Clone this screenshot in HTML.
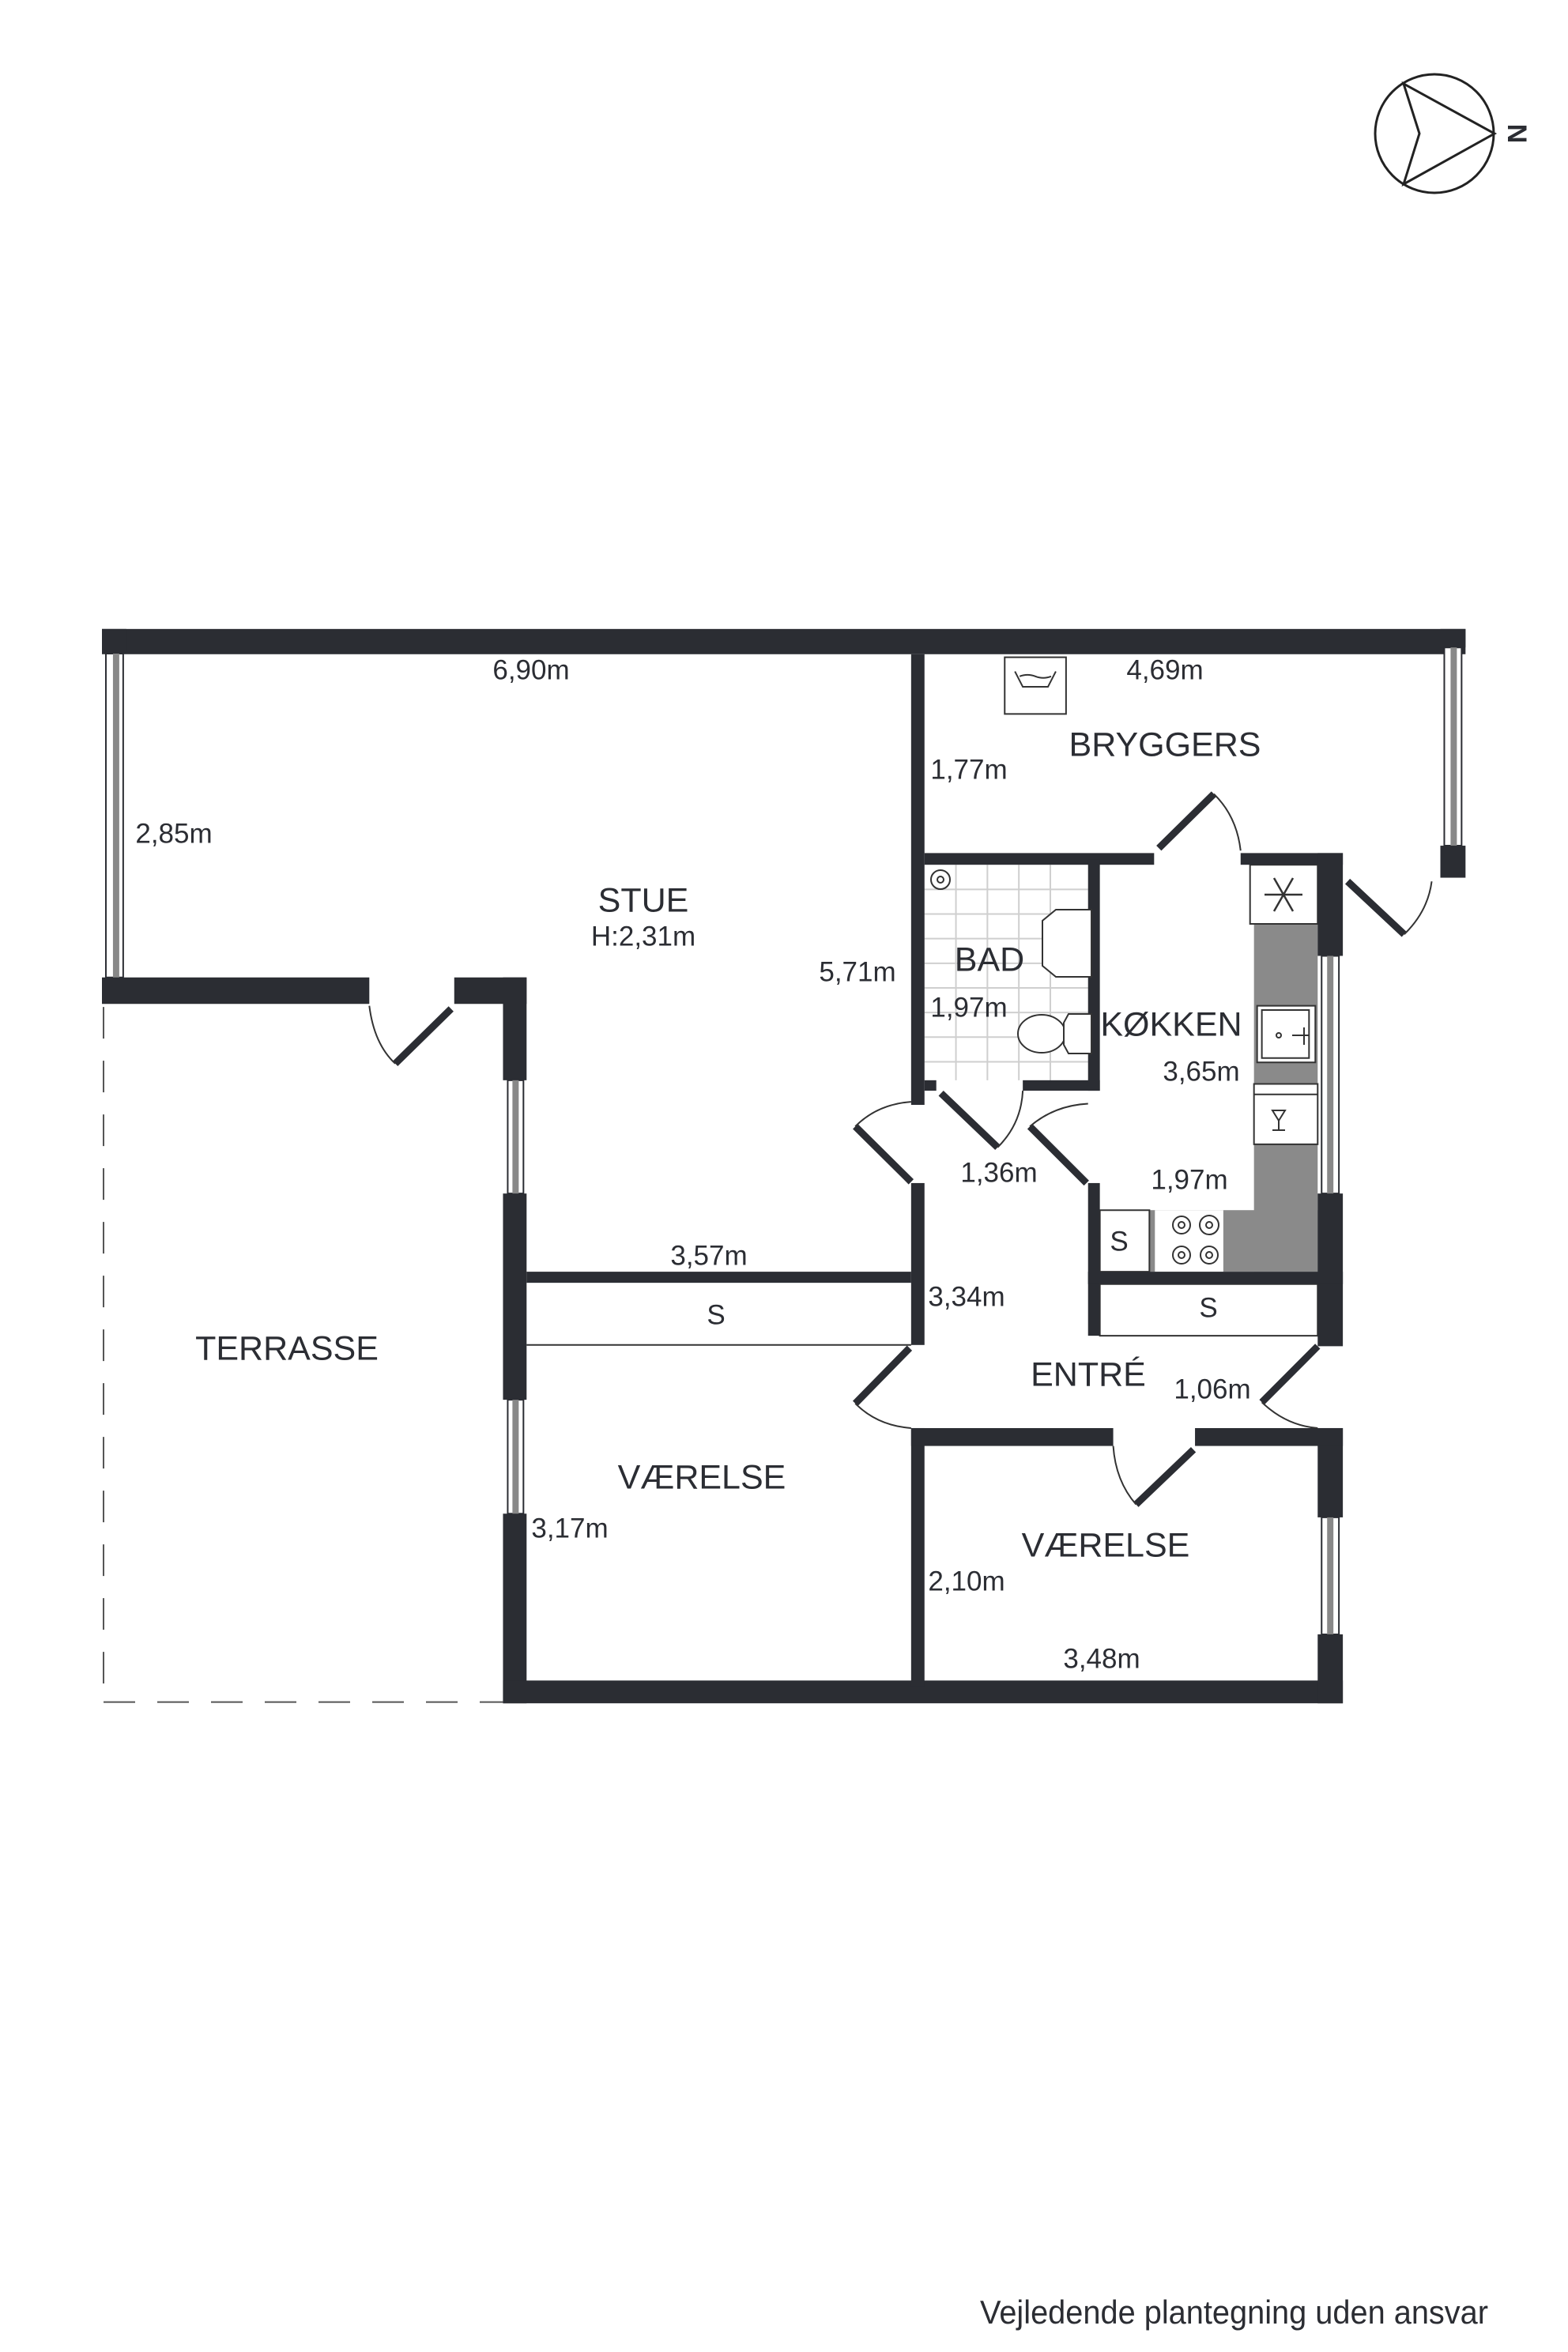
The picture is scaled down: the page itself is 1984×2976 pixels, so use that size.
<!DOCTYPE html>
<html><head><meta charset="utf-8"><style>
html,body{margin:0;padding:0;background:#fff}
svg{display:block}
text{font-family:"Liberation Sans",sans-serif;fill:#2b2d33}
.d{font-size:35px}
.r{font-size:43px}
g.t *{vector-effect:non-scaling-stroke}
</style></head><body>
<svg width="1984" height="2976" viewBox="0 0 1984 2976" xmlns="http://www.w3.org/2000/svg">
<!-- compass -->
<circle cx="1815" cy="169" r="75" fill="none" stroke="#222" stroke-width="3"/>
<polygon points="1776,106 1891,169 1776,233 1796,169" fill="none" stroke="#222" stroke-width="3"/>
<text x="1917" y="169" transform="rotate(90 1917 169)" text-anchor="middle" dominant-baseline="middle" style="font-size:34px;font-weight:bold">N</text>

<g class="t" transform="translate(129,760) scale(0.995,0.779) translate(-129,-760)">
<!-- bath tiles -->
<g stroke="#cfcfcf" stroke-width="2">
<line x1="1215" y1="1189" x2="1215" y2="1539"/><line x1="1255" y1="1189" x2="1255" y2="1539"/>
<line x1="1295" y1="1189" x2="1295" y2="1539"/><line x1="1335" y1="1189" x2="1335" y2="1539"/>
<line x1="1175" y1="1229" x2="1383" y2="1229"/><line x1="1175" y1="1269" x2="1383" y2="1269"/>
<line x1="1175" y1="1309" x2="1383" y2="1309"/><line x1="1175" y1="1349" x2="1383" y2="1349"/>
<line x1="1175" y1="1389" x2="1383" y2="1389"/><line x1="1175" y1="1429" x2="1383" y2="1429"/>
<line x1="1175" y1="1469" x2="1383" y2="1469"/><line x1="1175" y1="1509" x2="1383" y2="1509"/>
</g>
<!-- washer -->
<g fill="none" stroke="#333" stroke-width="2">
<rect x="1277" y="852" width="78" height="92"/>
<path d="M1290,875 L1300,900 L1332,900 L1342,875"/>
<path d="M1296,883 Q1306,878 1316,883 Q1326,888 1336,883"/>
</g>
<!-- kitchen counter gray -->
<rect x="1594" y="1285" width="81" height="565" fill="#8a8a8a"/>
<rect x="1398" y="1750" width="277" height="100" fill="#8a8a8a"/>
<rect x="1398" y="1750" width="63" height="100" fill="#fff" stroke="#333" stroke-width="2"/>
<rect x="1468" y="1750" width="87" height="100" fill="#fff"/>
<!-- fridge -->
<rect x="1589" y="1189" width="86" height="96" fill="#fff" stroke="#333" stroke-width="2"/>
<!-- sink -->
<rect x="1598" y="1418" width="74" height="92" fill="#fff" stroke="#333" stroke-width="2"/>
<rect x="1604" y="1425" width="60" height="78" fill="none" stroke="#333" stroke-width="2"/>
<!-- dishwasher -->
<rect x="1594" y="1545" width="81" height="98" fill="#fff" stroke="#333" stroke-width="2"/>
<line x1="1594" y1="1562" x2="1675" y2="1562" stroke="#333" stroke-width="2"/>

<!-- closets -->
<rect x="669" y="1868" width="489" height="101" fill="#fff"/>
<line x1="669" y1="1969" x2="1158" y2="1969" stroke="#333" stroke-width="2"/>
<rect x="1398" y="1870" width="277" height="84" fill="#fff" stroke="#333" stroke-width="2"/>

<!-- terrace dashed -->
<g stroke="#555" stroke-width="2" stroke-dasharray="40,28" fill="none">
<line x1="131" y1="1420" x2="131" y2="2549"/>
<line x1="131" y1="2549" x2="639" y2="2549"/>
</g>

<!-- walls -->
<g fill="#2b2d33">
<rect x="129" y="806" width="1734" height="41"/>
<rect x="129" y="806" width="31" height="40"/>
<rect x="129" y="1372" width="340" height="43"/>
<rect x="577" y="1372" width="92" height="43"/>
<rect x="639" y="1372" width="30" height="167"/>
<rect x="639" y="1723" width="30" height="335"/>
<rect x="639" y="2243" width="30" height="308"/>
<rect x="639" y="2514" width="1068" height="37"/>
<rect x="1158" y="847" width="17" height="732"/>
<rect x="1158" y="1706" width="17" height="263"/>
<rect x="1158" y="2104" width="17" height="420"/>
<rect x="1831" y="806" width="32" height="30"/>
<rect x="1831" y="1158" width="32" height="52"/>
<rect x="1175" y="1170" width="292" height="19"/>
<rect x="1577" y="1170" width="130" height="19"/>
<rect x="1675" y="1170" width="32" height="167"/>
<rect x="1675" y="1723" width="32" height="248"/>
<rect x="1675" y="2104" width="32" height="145"/>
<rect x="1675" y="2439" width="32" height="112"/>
<rect x="1383" y="1181" width="15" height="375"/>
<rect x="1175" y="1539" width="15" height="17"/>
<rect x="1300" y="1539" width="98" height="17"/>
<rect x="1383" y="1706" width="15" height="248"/>
<rect x="669" y="1850" width="489" height="18"/>
<rect x="1383" y="1850" width="324" height="20"/>
<rect x="1158" y="2104" width="257" height="29"/>
<rect x="1519" y="2104" width="188" height="29"/>
</g>
<!-- windows -->
<g fill="#fff" stroke="#2b2d33" stroke-width="2">
<rect x="134" y="846" width="22" height="526"/>
<rect x="645" y="1539" width="20" height="184"/>
<rect x="645" y="2058" width="20" height="185"/>
<rect x="1836" y="836" width="22" height="322"/>
<rect x="1680" y="1337" width="22" height="386"/>
<rect x="1680" y="2249" width="22" height="190"/>
</g>
<g fill="#888">
<rect x="143" y="846" width="8" height="526"/>
<rect x="651" y="1539" width="8" height="184"/>
<rect x="651" y="2058" width="8" height="185"/>
<rect x="1844" y="836" width="8" height="322"/>
<rect x="1687" y="1337" width="8" height="386"/>
<rect x="1687" y="2249" width="8" height="190"/>
</g>

<!-- doors -->
<g stroke="#2b2d33" stroke-width="9">
<line x1="573" y1="1423" x2="502" y2="1512"/>
<line x1="1543" y1="1074" x2="1473" y2="1162"/>
<line x1="1713" y1="1216" x2="1785" y2="1302"/>
<line x1="1087" y1="1614" x2="1158" y2="1704"/>
<line x1="1196" y1="1560" x2="1268" y2="1648"/>
<line x1="1309" y1="1614" x2="1381" y2="1706"/>
<line x1="1087" y1="2064" x2="1156" y2="1974"/>
<line x1="1675" y1="1971" x2="1604" y2="2062"/>
<line x1="1517" y1="2139" x2="1444" y2="2228"/>
</g>
<g stroke="#333" stroke-width="2" fill="none">
<path d="M469,1418 Q475,1480 502,1512"/>
<path d="M1543,1074 Q1572,1110 1577,1166"/>
<path d="M1785,1302 Q1815,1265 1820,1216"/>
<path d="M1087,1614 Q1115,1578 1158,1574"/>
<path d="M1268,1648 Q1298,1610 1300,1556"/>
<path d="M1309,1614 Q1340,1580 1383,1577"/>
<path d="M1087,2064 Q1115,2100 1158,2104"/>
<path d="M1604,2062 Q1635,2100 1675,2104"/>
<path d="M1415,2133 Q1418,2190 1444,2228"/>
</g>
</g>

<!-- fixtures in true coords -->
<g fill="#fff" stroke="#333" stroke-width="2">
<path d="M1336,1151 L1381,1151 L1381,1236 L1336,1236 L1319,1222 L1319,1165 Z"/>
<ellipse cx="1318" cy="1308" rx="30" ry="24"/>
<path d="M1352,1283 L1381,1283 L1381,1333 L1352,1333 L1346,1322 L1346,1294 Z"/>
<circle cx="1190" cy="1113" r="12"/>
<circle cx="1190" cy="1113" r="4"/>
</g>
<g stroke="#333" stroke-width="2.5" transform="translate(1624,1132)">
<line x1="-24" y1="0" x2="24" y2="0"/><line x1="-12" y1="-21" x2="12" y2="21"/><line x1="12" y1="-21" x2="-12" y2="21"/>
</g>
<g fill="none" stroke="#333" stroke-width="2">
<circle cx="1495" cy="1550" r="11"/><circle cx="1495" cy="1550" r="4"/>
<circle cx="1530" cy="1550" r="12"/><circle cx="1530" cy="1550" r="4"/>
<circle cx="1495" cy="1588" r="11"/><circle cx="1495" cy="1588" r="4"/>
<circle cx="1530" cy="1588" r="11"/><circle cx="1530" cy="1588" r="4"/>
<path d="M1610,1405 h16 l-8,13 z M1618,1418 v12 M1610,1430 h16"/>
<path d="M1635,1310 h22 M1650,1300 v22"/>
<circle cx="1618" cy="1310" r="3"/>
</g>

<!-- labels -->
<g text-anchor="middle" dominant-baseline="middle">
<text class="d" x="672" y="850">6,90m</text>
<text class="d" x="1474" y="850">4,69m</text>
<text class="r" x="1474" y="945">BRYGGERS</text>
<text class="d" x="1226" y="976">1,77m</text>
<text class="d" x="220" y="1057">2,85m</text>
<text class="r" x="814" y="1142">STUE</text>
<text class="d" x="814" y="1187">H:2,31m</text>
<text class="d" x="1085" y="1232">5,71m</text>
<text class="r" x="1252" y="1217">BAD</text>
<text class="d" x="1226" y="1277">1,97m</text>
<text class="r" x="1482" y="1299">KØKKEN</text>
<text class="d" x="1520" y="1358">3,65m</text>
<text class="d" x="1264" y="1486">1,36m</text>
<text class="d" x="1505" y="1495">1,97m</text>
<text class="d" x="897" y="1591">3,57m</text>
<text class="d" x="1223" y="1643">3,34m</text>
<text class="d" x="906" y="1666">S</text>
<text class="d" x="1529" y="1657">S</text>
<text class="d" x="1416" y="1573">S</text>
<text class="r" x="363" y="1709">TERRASSE</text>
<text class="r" x="1377" y="1742">ENTRÉ</text>
<text class="d" x="1534" y="1760">1,06m</text>
<text class="r" x="888" y="1872">VÆRELSE</text>
<text class="d" x="721" y="1936">3,17m</text>
<text class="r" x="1399" y="1958">VÆRELSE</text>
<text class="d" x="1223" y="2003">2,10m</text>
<text class="d" x="1394" y="2101">3,48m</text>
</g>
<text x="1240" y="2940" style="font-size:42px" textLength="643" lengthAdjust="spacingAndGlyphs">Vejledende plantegning uden ansvar</text>
</svg>
</body></html>
